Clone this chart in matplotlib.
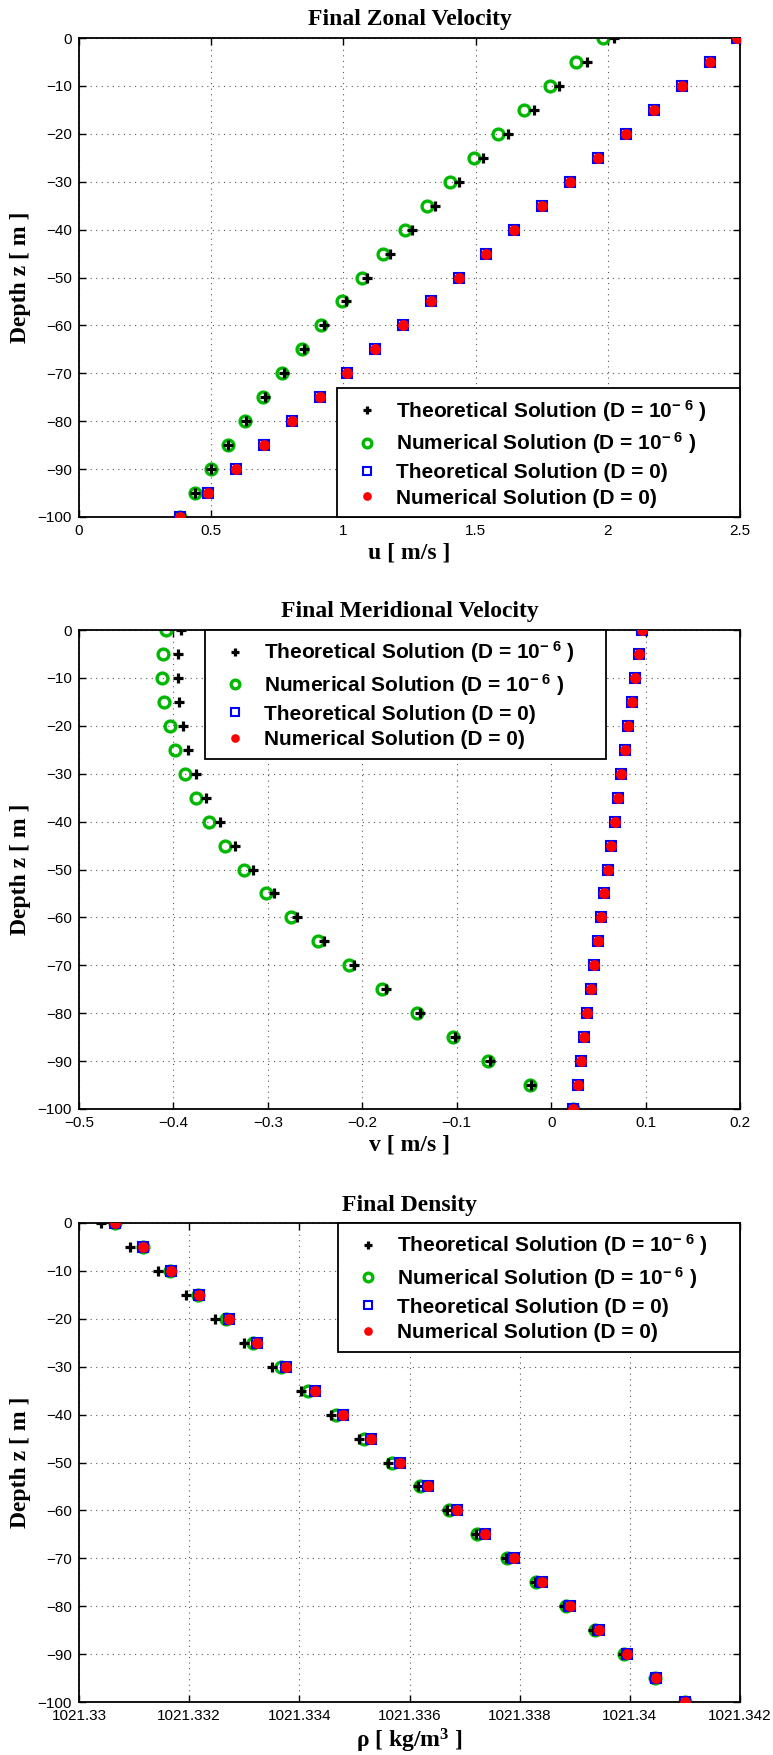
import matplotlib
matplotlib.use('Agg')
import matplotlib.pyplot as plt
from matplotlib.ticker import FixedLocator, FixedFormatter

plt.rcParams['mathtext.default'] = 'regular'

# ---------------- data ----------------
depth = [0, -5, -10, -15, -20, -25, -30, -35, -40, -45, -50,
         -55, -60, -65, -70, -75, -80, -85, -90, -95, -100]

# Zonal velocity u [m/s]
u_theo_D6 = [2.024, 1.922, 1.817, 1.720, 1.622, 1.528, 1.438, 1.348, 1.260, 1.175, 1.090,
             1.008, 0.928, 0.851, 0.775, 0.702, 0.632, 0.564, 0.500, 0.439, 0.381]
u_num_D6 = [1.983, 1.881, 1.782, 1.683, 1.586, 1.495, 1.405, 1.318, 1.233, 1.151, 1.071,
            0.993, 0.916, 0.842, 0.768, 0.697, 0.629, 0.562, 0.499, 0.438, 0.381]
u_theo_D0 = [2.490, 2.385, 2.279, 2.174, 2.068, 1.963, 1.857, 1.752, 1.646, 1.541, 1.436,
             1.330, 1.225, 1.119, 1.014, 0.910, 0.805, 0.699, 0.593, 0.487, 0.381]
u_num_D0 = [2.490, 2.385, 2.279, 2.174, 2.068, 1.963, 1.857, 1.752, 1.646, 1.541, 1.436,
            1.330, 1.225, 1.119, 1.014, 0.910, 0.805, 0.699, 0.593, 0.487, 0.381]

# Meridional velocity v [m/s]
v_theo_D6 = [-0.392, -0.395, -0.395, -0.394, -0.390, -0.385, -0.376, -0.365, -0.351, -0.335, -0.316,
             -0.294, -0.269, -0.241, -0.209, -0.175, -0.139, -0.102, -0.065, -0.021, 0.0235]
v_num_D6 = [-0.408, -0.411, -0.412, -0.410, -0.404, -0.398, -0.388, -0.376, -0.362, -0.345, -0.325,
            -0.302, -0.276, -0.247, -0.214, -0.179, -0.142, -0.104, -0.0666, -0.022, 0.0235]
v_theo_D0 = [0.0963, 0.0930, 0.0893, 0.0853, 0.0815, 0.0780, 0.0744, 0.0708, 0.0672, 0.0636, 0.0600,
             0.0564, 0.0528, 0.0492, 0.0456, 0.0420, 0.0384, 0.0348, 0.0313, 0.0280, 0.0235]
v_num_D0 = [0.0963, 0.0930, 0.0893, 0.0853, 0.0815, 0.0780, 0.0744, 0.0708, 0.0672, 0.0636, 0.0600,
            0.0564, 0.0528, 0.0492, 0.0456, 0.0420, 0.0384, 0.0348, 0.0313, 0.0280, 0.0235]

# Density rho [kg/m^3]
rho_theo_D6 = [1021.330403, 1021.330922, 1021.331432, 1021.331943, 1021.332462, 1021.332990,
               1021.333509, 1021.334029, 1021.334566, 1021.335076, 1021.335613, 1021.336159,
               1021.336688, 1021.337207, 1021.337744, 1021.338281, 1021.338800, 1021.339337,
               1021.339875, 1021.340430, 1021.340976]
rho_num_D6 = [1021.330654, 1021.331164, 1021.331660, 1021.332158, 1021.332668, 1021.333160,
              1021.333671, 1021.334163, 1021.334673, 1021.335175, 1021.335685, 1021.336195,
              1021.336714, 1021.337234, 1021.337762, 1021.338299, 1021.338836, 1021.339364,
              1021.339893, 1021.340448, 1021.340994]
rho_theo_D0 = [1021.330654, 1021.331164, 1021.331674, 1021.332184, 1021.332722, 1021.333232,
               1021.333751, 1021.334279, 1021.334790, 1021.335300, 1021.335828, 1021.336338,
               1021.336867, 1021.337377, 1021.337896, 1021.338406, 1021.338917, 1021.339445,
               1021.339955, 1021.340466, 1021.340994]
rho_num_D0 = list(rho_theo_D0)

# axis ticks / labels
u_ticks = [0, 0.5, 1, 1.5, 2, 2.5]
u_ticklabels = ['0', '0.5', '1', '1.5', '2', '2.5']
v_ticks = [-0.5, -0.4, -0.3, -0.2, -0.1, 0, 0.1, 0.2]
v_ticklabels = ['\u22120.5', '\u22120.4', '\u22120.3', '\u22120.2', '\u22120.1', '0', '0.1', '0.2']
rho_ticks = [1021.330, 1021.332, 1021.334, 1021.336, 1021.338, 1021.340, 1021.342]
rho_ticklabels = ['1021.33', '1021.332', '1021.334', '1021.336', '1021.338', '1021.34', '1021.342']
depth_ticks = [0, -10, -20, -30, -40, -50, -60, -70, -80, -90, -100]

titles = ['Final Zonal Velocity', 'Final Meridional Velocity', 'Final Density']
xlabels = ['u [ m/s ]', 'v [ m/s ]', '\u03c1 [ kg/m$^3$ ]']
ylabel = 'Depth z [ m ]'
legend_labels = ['Theoretical Solution (D = 10$^{\u2212\\;6}$ )',
                 'Numerical Solution (D = 10$^{\u2212\\;6}$ )',
                 'Theoretical Solution (D = 0)',
                 'Numerical Solution (D = 0)']

# ---------------- figure ----------------
W, H = 773, 1755
fig = plt.figure(figsize=(W / 100, H / 100), dpi=100)

left = 79 / W
width = (740 - 79) / W
ax_h = 479 / H
bottoms_px = [517, 1109, 1702]

green = (0.0, 0.72, 0.0)

panels = [
    (u_theo_D6, u_num_D6, u_theo_D0, u_num_D0, (0, 2.5), u_ticks, u_ticklabels),
    (v_theo_D6, v_num_D6, v_theo_D0, v_num_D0, (-0.5, 0.2), v_ticks, v_ticklabels),
    (rho_theo_D6, rho_num_D6, rho_theo_D0, rho_num_D0, (1021.330, 1021.342), rho_ticks, rho_ticklabels),
]
# legend placement: (x0 in axes fraction, width fraction, 'lower' or 'upper')
legend_pos = [(0.390, 0.610, 'lower'), (0.1906, 0.607, 'upper'), (0.392, 0.608, 'upper')]

for i, (tD6, nD6, tD0, nD0, xlim, xt, xtl) in enumerate(panels):
    ax = fig.add_axes([left, 1 - bottoms_px[i] / H, width, ax_h])
    h1, = ax.plot(tD6, depth, linestyle='none', marker='+', color='black', ms=7, mew=2.3, zorder=3)
    h2, = ax.plot(nD6, depth, linestyle='none', marker='o', mfc='none', mec=green, ms=7.8, mew=2.4, zorder=2)
    h3, = ax.plot(tD0, depth, linestyle='none', marker='s', mfc='none', mec='blue', ms=6.8, mew=1.5, zorder=4)
    h4, = ax.plot(nD0, depth, linestyle='none', marker='o', color='red', mec='red', ms=7.8, mew=0, zorder=5)

    ax.set_xlim(*xlim)
    ax.set_ylim(-100, 0)
    ax.xaxis.set_major_locator(FixedLocator(xt))
    ax.xaxis.set_major_formatter(FixedFormatter(xtl))
    ax.yaxis.set_major_locator(FixedLocator(depth_ticks))
    ax.grid(True, linestyle=(0, (1, 4)), color='0.35', linewidth=0.8)
    ax.set_axisbelow(True)
    ax.tick_params(direction='in', length=5, width=1, top=True, right=True,
                   labelsize=11, pad=5)
    for lab in ax.get_xticklabels() + ax.get_yticklabels():
        lab.set_fontfamily('Liberation Sans')
    for sp in ax.spines.values():
        sp.set_linewidth(1.3)

    ax.set_title(titles[i], fontsize=17, fontweight='bold', family='Liberation Serif', pad=9)
    ax.set_xlabel(xlabels[i], fontsize=17, fontweight='bold', family='Liberation Serif', labelpad=3)
    ax.set_ylabel(ylabel, fontsize=17, fontweight='bold', family='Liberation Serif', labelpad=5)

    x0, wfrac, where = legend_pos[i]
    if where == 'lower':
        bbox = (x0, 0.0, wfrac, 0.25)
        loc = 'lower left'
    else:
        bbox = (x0, 0.75, wfrac, 0.25)
        loc = 'upper left'
    leg = ax.legend([h1, h2, h3, h4], legend_labels, loc=loc, bbox_to_anchor=bbox, mode='expand',
                    borderaxespad=0, fancybox=False, framealpha=1, edgecolor='black',
                    prop=dict(family='Liberation Sans', weight='bold', size=15),
                    markerscale=0.8, handlelength=2.0, handletextpad=0.4, borderpad=0.45,
                    labelspacing=0.32)
    leg.get_frame().set_linewidth(1.3)
    leg.set_zorder(10)

fig.savefig('out.png', dpi=100)
